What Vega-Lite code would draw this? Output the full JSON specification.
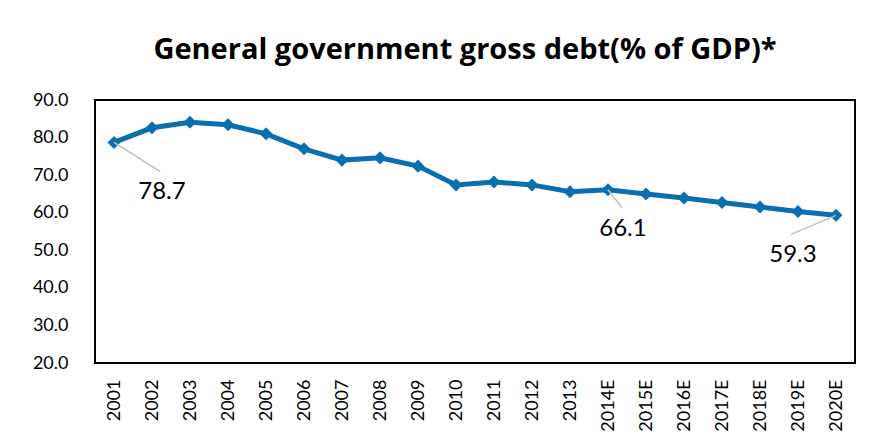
{
  "$schema": "https://vega.github.io/schema/vega-lite/v6.json",
  "width": 760,
  "height": 263,
  "autosize": {"type": "none"},
  "padding": {"left": 95, "top": 100, "right": 14, "bottom": 82},
  "background": "white",
  "title": {
    "text": "General government gross debt(% of GDP)*",
    "font": "Open Sans",
    "fontSize": 29,
    "fontWeight": "bold",
    "color": "#000000",
    "anchor": "middle",
    "dx": -10,
    "offset": 26
  },
  "config": {
    "view": {"stroke": "#000000", "strokeWidth": 2},
    "font": "Lato"
  },
  "data": {
    "values": [
      {"year": "2001", "debt": 78.7},
      {"year": "2002", "debt": 82.6},
      {"year": "2003", "debt": 84.1},
      {"year": "2004", "debt": 83.4},
      {"year": "2005", "debt": 81.0},
      {"year": "2006", "debt": 77.0},
      {"year": "2007", "debt": 74.0},
      {"year": "2008", "debt": 74.6},
      {"year": "2009", "debt": 72.4},
      {"year": "2010", "debt": 67.4},
      {"year": "2011", "debt": 68.2},
      {"year": "2012", "debt": 67.4},
      {"year": "2013", "debt": 65.6},
      {"year": "2014E", "debt": 66.1},
      {"year": "2015E", "debt": 65.0},
      {"year": "2016E", "debt": 63.9},
      {"year": "2017E", "debt": 62.7},
      {"year": "2018E", "debt": 61.5},
      {"year": "2019E", "debt": 60.3},
      {"year": "2020E", "debt": 59.3}
    ]
  },
  "encoding": {
    "x": {
      "field": "year",
      "type": "ordinal",
      "sort": null,
      "scale": {"type": "point", "padding": 0.5},
      "axis": {
        "title": null,
        "labelAngle": -90,
        "labelFontSize": 18,
        "labelColor": "#000000",
        "labelPadding": 16,
        "ticks": false,
        "domain": false,
        "grid": false
      }
    },
    "y": {
      "field": "debt",
      "type": "quantitative",
      "scale": {"domain": [20, 90], "nice": false, "zero": false},
      "axis": {
        "title": null,
        "values": [20, 30, 40, 50, 60, 70, 80, 90],
        "format": ".1f",
        "labelFontSize": 18,
        "labelColor": "#000000",
        "labelPadding": 27,
        "ticks": false,
        "domain": false,
        "grid": false
      }
    }
  },
  "layer": [
    {
      "mark": {"type": "line", "color": "#0B6EB0", "strokeWidth": 5}
    },
    {
      "mark": {"type": "point", "shape": "diamond", "filled": true, "color": "#0B6EB0", "size": 170, "opacity": 1}
    },
    {
      "transform": [{"filter": "datum.year === '2001'"}],
      "layer": [
        {
          "mark": {"type": "rule", "color": "#BFBFBF", "strokeWidth": 1.5, "x2Offset": 46, "y2Offset": 29},
          "encoding": {"x2": {"field": "year"}, "y2": {"field": "debt"}}
        },
        {
          "mark": {"type": "text", "fontSize": 24, "color": "#000000", "dx": 48, "dy": 50},
          "encoding": {"text": {"field": "debt", "format": ".1f"}}
        }
      ]
    },
    {
      "transform": [{"filter": "datum.year === '2014E'"}],
      "layer": [
        {
          "mark": {"type": "rule", "color": "#BFBFBF", "strokeWidth": 1.5, "x2Offset": 14, "y2Offset": 18},
          "encoding": {"x2": {"field": "year"}, "y2": {"field": "debt"}}
        },
        {
          "mark": {"type": "text", "fontSize": 24, "color": "#000000", "dx": 15, "dy": 39},
          "encoding": {"text": {"field": "debt", "format": ".1f"}}
        }
      ]
    },
    {
      "transform": [{"filter": "datum.year === '2020E'"}],
      "layer": [
        {
          "mark": {"type": "rule", "color": "#BFBFBF", "strokeWidth": 1.5, "x2Offset": -45, "y2Offset": 19},
          "encoding": {"x2": {"field": "year"}, "y2": {"field": "debt"}}
        },
        {
          "mark": {"type": "text", "fontSize": 24, "color": "#000000", "dx": -43, "dy": 40},
          "encoding": {"text": {"field": "debt", "format": ".1f"}}
        }
      ]
    }
  ]
}
